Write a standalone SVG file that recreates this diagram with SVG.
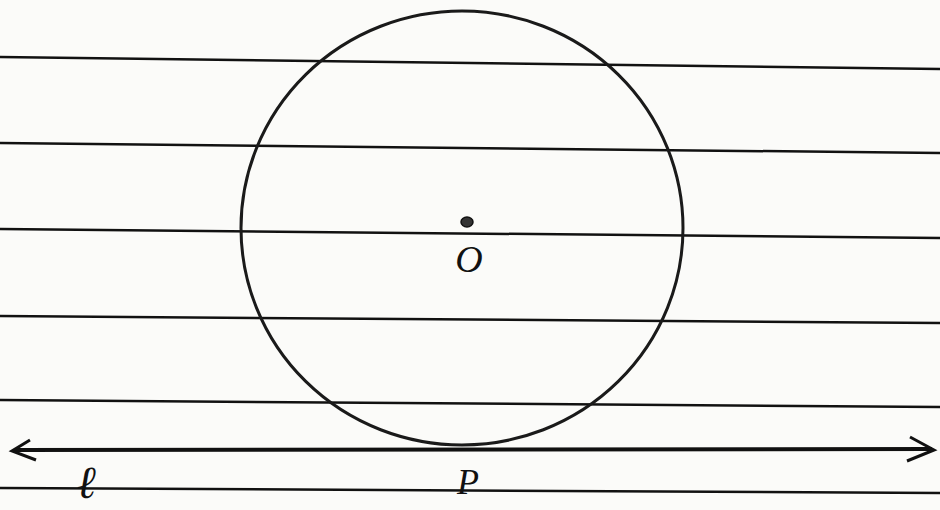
<svg xmlns="http://www.w3.org/2000/svg" width="940" height="510" viewBox="0 0 940 510">
<style>
.rule{stroke:#111;stroke-width:2.5;fill:none}
.lbl{font-family:"Liberation Serif",serif;font-style:italic;fill:#111}
</style>
<rect width="940" height="510" fill="#fbfbf9"/>
<g id="ruled-lines">
<line class="rule" x1="0" y1="57" x2="940" y2="69"/>
<line class="rule" x1="0" y1="143" x2="940" y2="153"/>
<line class="rule" x1="0" y1="229" x2="940" y2="238"/>
<line class="rule" x1="0" y1="316" x2="940" y2="323"/>
<line class="rule" x1="0" y1="400" x2="940" y2="407"/>
<line class="rule" x1="0" y1="488" x2="940" y2="493"/>
</g>
<g id="circle">
<ellipse cx="462" cy="228" rx="221" ry="217" fill="none" stroke="#1a1a1a" stroke-width="3"/>
</g>
<g id="centre-O">
<ellipse cx="467" cy="222" rx="6" ry="5" fill="#333" stroke="#111" stroke-width="1.5"/>
<text class="lbl" x="469" y="272" font-size="38" text-anchor="middle">O</text>
</g>
<g id="connectors">
<line x1="14" y1="450" x2="932" y2="449" stroke="#111" stroke-width="4"/>
<path d="M30 440 L12 451 L36 460" fill="none" stroke="#111" stroke-width="3"/>
<path d="M910 437 L934 450 L907 461" fill="none" stroke="#111" stroke-width="3"/>
</g>
<g id="label-l">
<text class="lbl" x="86" y="498" font-size="46" text-anchor="middle">ℓ</text>
</g>
<g id="label-P">
<text class="lbl" x="468" y="494" font-size="36" text-anchor="middle">P</text>
</g>
</svg>
